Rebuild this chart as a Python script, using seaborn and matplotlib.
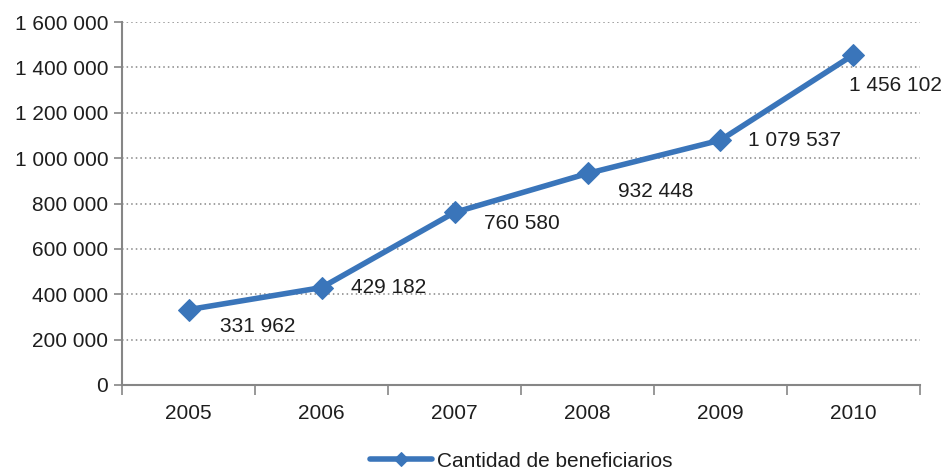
import matplotlib
matplotlib.use("Agg")
import matplotlib.pyplot as plt
import seaborn as sns
import pandas as pd
from matplotlib.ticker import FuncFormatter, FixedLocator

years = ["2005", "2006", "2007", "2008", "2009", "2010"]
beneficiarios = [331962, 429182, 760580, 932448, 1079537, 1456102]
series_name = "Cantidad de beneficiarios"

# label offsets in points (dx, dy) relative to each marker
label_offsets = [(23, -12), (21, 0), (21, -8), (22, -13), (20, 0), (-3, -22)]

sns.set_theme(style="white")
plt.rcParams["font.family"] = ["Liberation Sans", "DejaVu Sans"]

blue = "#3A75BA"
grey = "#868686"
text_color = "#1E1E1E"
fs = 15

df = pd.DataFrame({"x": range(len(years)), "y": beneficiarios, "serie": series_name})

fig = plt.figure(figsize=(9.43, 4.70), dpi=100)
ax = fig.add_axes([0.1294, 0.181, 0.8462, 0.772])

sns.lineplot(data=df, x="x", y="y", hue="serie", palette=[blue], marker="D",
             markersize=11.5, markeredgecolor=blue, linewidth=4, ax=ax, legend=True)

def fmt(v, pos=None):
    return f"{int(round(v)):,}".replace(",", " ")

ax.set_xlim(-0.5, len(years) - 0.5)
ax.set_ylim(0, 1600000)
ax.yaxis.set_major_locator(FixedLocator(range(0, 1600001, 200000)))
ax.yaxis.set_major_formatter(FuncFormatter(fmt))
ax.set_xticks(range(len(years)))
ax.set_xticklabels(years)
ax.set_xticks([i - 0.5 for i in range(len(years) + 1)], minor=True)
ax.tick_params(axis="x", which="major", length=0, pad=14, labelsize=fs, colors=text_color)
ax.tick_params(axis="x", which="minor", length=7, width=1.2, color=grey, direction="out", bottom=True)
ax.tick_params(axis="y", length=6, width=1.2, color=grey, direction="out", left=True, labelsize=fs,
               labelcolor=text_color, pad=4)
ax.set_xlabel("")
ax.set_ylabel("")

for v in range(200000, 1600001, 200000):
    ax.axhline(v, color=grey, linestyle=(0, (1, 2)), linewidth=1.1, zorder=0)

for s in ["top", "right"]:
    ax.spines[s].set_visible(False)
for s in ["left", "bottom"]:
    ax.spines[s].set_color(grey)
    ax.spines[s].set_linewidth(1.5)

for i, (val, (dx, dy)) in enumerate(zip(beneficiarios, label_offsets)):
    ax.annotate(fmt(val), (i, val), xytext=(dx, dy), textcoords="offset points",
                ha="left", va="center", fontsize=fs, color=text_color)

leg = ax.legend(loc="center", bbox_to_anchor=(0.5, -0.21), frameon=False,
                fontsize=fs, handlelength=3.0, handletextpad=0.2, borderpad=0)
for h in leg.legend_handles:
    h.set_markersize(7)
for t in leg.get_texts():
    t.set_color(text_color)

fig.savefig("out.png", dpi=100)
